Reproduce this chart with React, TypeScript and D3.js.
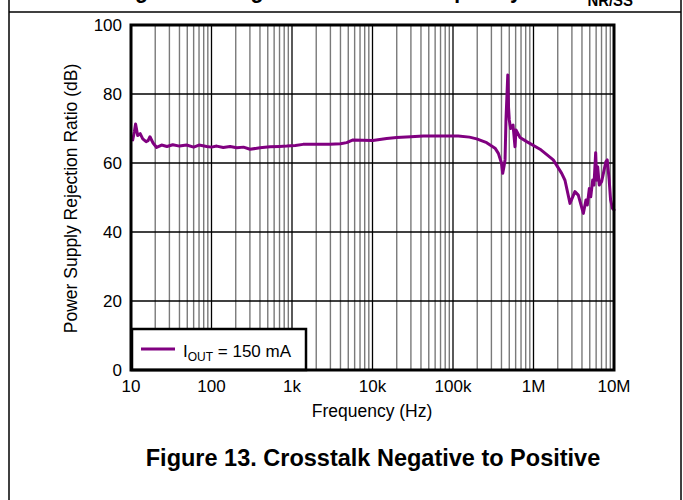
import React from "react";
import * as d3 from "d3";

const freqHz = [
  10.5, 11.0, 11.4, 12.1, 13, 14, 15.4, 16.3, 17.2, 18.8, 20.8, 24, 28, 33, 40, 49, 60, 70, 87, 100,
  116, 140, 170, 206, 250, 301, 400, 533, 700, 859, 1100, 1370, 2000, 2966, 4000, 4780, 5730, 7500,
  10100, 15000, 20000, 30000, 42800, 69000, 116000, 160000, 197000, 262000, 333000, 366000, 400000,
  414000, 430000, 443000, 455000, 479000, 490000, 500000, 520000, 536000, 557000, 589000, 606000,
  680000, 824000, 1205000, 1760000, 2240000, 2460000, 2840000, 3270000, 3600000, 4160000, 4490000,
  4660000, 4940000, 5140000, 5440000, 5640000, 5920000, 6090000, 6270000, 6560000, 7020000, 7930000,
  8240000, 8710000, 9070000, 9600000, 10000000,
];
const psrrDb = [
  66.7, 69, 71.3, 68, 68.5, 67, 66.2, 66.5, 67.6, 65.8, 64.5, 65.2, 64.8, 65.3, 64.9, 65.2, 64.6, 65.2,
  64.8, 64.6, 64.9, 64.5, 64.8, 64.4, 64.6, 64.0, 64.4, 64.7, 64.8, 64.9, 65.1, 65.4, 65.4, 65.4, 65.6,
  65.9, 66.7, 66.6, 66.5, 67.1, 67.4, 67.6, 67.8, 67.8, 67.8, 67.5, 67.0, 65.9, 64.3, 62.8, 60, 57, 59,
  60.9, 72.5, 85.5, 76, 72.5, 70.0, 70.5, 71, 64.7, 69.6, 67.4, 66.2, 64, 60.9, 57, 55, 48.3, 51.7,
  50.7, 45.4, 49.3, 47.8, 52.6, 50.2, 55.1, 53.6, 63.0, 55, 58.9, 53.6, 54.6, 60.4, 60.9, 55.1, 49.3,
  46.8, 46.4,
];
const xTickValues = [10, 100, 1e3, 1e4, 1e5, 1e6, 1e7];
const xTickLabels = ["10", "100", "1k", "10k", "100k", "1M", "10M"];
const yTickValues = [0, 20, 40, 60, 80, 100];

const FONT = "'Liberation Sans', Arial, sans-serif";

export default function App() {
  const left = 131, right = 614, top = 25, bottom = 370;
  const x = d3.scaleLog().domain([10, 1e7]).range([left, right]);
  const y = d3.scaleLinear().domain([0, 100]).range([bottom, top]);

  const minor: number[] = [];
  for (let dec = 10; dec < 1e7; dec *= 10) {
    for (let k = 2; k <= 9; k++) minor.push(dec * k);
  }
  const pts = freqHz.map((f, i) => [f, psrrDb[i]] as [number, number]);
  const line = d3
    .line<[number, number]>()
    .x((d) => x(d[0]))
    .y((d) => y(d[1]));

  return (
    <div style={{ position: "absolute", left: 0, top: 0 }}>
      <svg width={683} height={500} style={{ display: "block", background: "#fff" }}>
        <rect x={0} y={0} width={683} height={500} fill="#fff" />
        {/* figure frame */}
        <line x1={9} y1={0} x2={9} y2={500} stroke="#000" strokeWidth={1.5} />
        <line x1={681} y1={0} x2={681} y2={500} stroke="#000" strokeWidth={1.5} />
        <line x1={9} y1={12} x2={681} y2={12} stroke="#000" strokeWidth={1.5} />
        {/* clipped title from previous figure row */}
        <text x={116} y={-2} fontFamily={FONT} fontWeight="bold" fontSize={23} textLength={517} lengthAdjust="spacingAndGlyphs">
          Figure 12. Negative PSRR vs Frequency and C
          <tspan fontSize={16} dy={8}>NR/SS</tspan>
        </text>

        {/* grid */}
        {minor.map((f) => (
          <line key={"m" + f} x1={x(f)} x2={x(f)} y1={top} y2={bottom} stroke="#7a7a7a" strokeWidth={1.4} />
        ))}
        {xTickValues.map((f) => (
          <line key={"M" + f} x1={x(f)} x2={x(f)} y1={top} y2={bottom} stroke="#000" strokeWidth={1.3} />
        ))}
        {yTickValues.map((v) => (
          <line key={"h" + v} x1={left} x2={right} y1={y(v)} y2={y(v)} stroke="#000" strokeWidth={1.3} />
        ))}

        {/* data */}
        <path d={line(pts) || ""} fill="none" stroke="#800080" strokeWidth={3} strokeLinejoin="round" strokeLinecap="round" />

        {/* legend */}
        <rect x={132} y={329} width={174} height={41} fill="#fff" stroke="#000" strokeWidth={2.5} />
        <line x1={141} x2={175} y1={349} y2={349} stroke="#800080" strokeWidth={3} />
        <text x={183} y={357} fontFamily={FONT} fontSize={17}>
          I<tspan fontSize={12} dy={4}>OUT</tspan>
          <tspan dy={-4}> = 150 mA</tspan>
        </text>

        {/* frame */}
        <rect x={left} y={top} width={right - left} height={bottom - top} fill="none" stroke="#000" strokeWidth={3} />

        {/* tick labels */}
        {yTickValues.map((v) => (
          <text key={"yl" + v} x={122} y={y(v) + 6} textAnchor="end" fontFamily={FONT} fontSize={17}>
            {v}
          </text>
        ))}
        {xTickValues.map((f, i) => (
          <text key={"xl" + f} x={x(f)} y={392} textAnchor="middle" fontFamily={FONT} fontSize={17}>
            {xTickLabels[i]}
          </text>
        ))}

        {/* axis titles */}
        <text x={372} y={417} textAnchor="middle" fontFamily={FONT} fontSize={17.5}>
          Frequency (Hz)
        </text>
        <text
          transform={`translate(77, 198.5) rotate(-90)`}
          textAnchor="middle"
          fontFamily={FONT}
          fontSize={17.5}
        >
          Power Supply Rejection Ratio (dB)
        </text>

        {/* caption */}
        <text x={373} y={466} textAnchor="middle" fontFamily={FONT} fontWeight="bold" fontSize={23.5}>
          Figure 13. Crosstalk Negative to Positive
        </text>
      </svg>
    </div>
  );
}
